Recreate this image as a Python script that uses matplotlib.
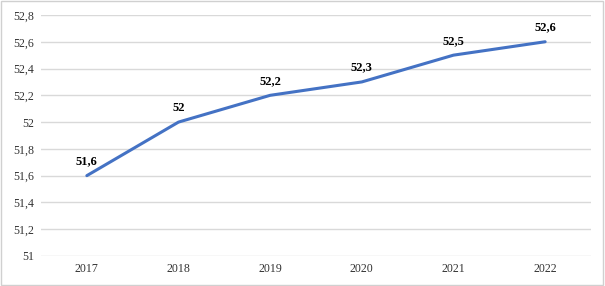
import matplotlib
matplotlib.use('Agg')
import matplotlib.pyplot as plt
from matplotlib.patches import Rectangle

years = ['2017', '2018', '2019', '2020', '2021', '2022']
values = [51.6, 52.0, 52.2, 52.3, 52.5, 52.6]
labels = ['51,6', '52', '52,2', '52,3', '52,5', '52,6']

plt.rcParams['font.family'] = ['Liberation Serif', 'DejaVu Serif']

fig = plt.figure(figsize=(6.05, 2.86), dpi=100)
ax = fig.add_axes([0.0678, 0.105, 0.909, 0.8426])

x = list(range(len(years)))
ax.plot(x, values, color='#4472C4', linewidth=2.2, solid_capstyle='round', zorder=3)
for xi, v, lab in zip(x, values, labels):
    ax.annotate(lab, (xi, v), xytext=(0, 6), textcoords='offset points',
                ha='center', va='bottom', fontsize=9, fontweight='bold')

ax.set_xlim(-0.5, len(years) - 0.5)
ax.set_ylim(51, 52.8)
yt = [51 + 0.2 * i for i in range(10)]
ax.set_yticks(yt)
ax.set_yticklabels([('%.1f' % t).replace('.', ',').replace(',0', '') for t in yt])
ax.set_xticks(x)
ax.set_xticklabels(years)
ax.tick_params(length=0, labelsize=8.6, colors='#333333', pad=5)
ax.grid(axis='y', color='#d9d9d9', linewidth=1)
ax.set_axisbelow(True)
for s in ax.spines.values():
    s.set_visible(False)

fig.patches.append(Rectangle((0.002, 0.003), 0.995, 0.993, transform=fig.transFigure,
                             fill=False, edgecolor='#d0d0d0', linewidth=1))

fig.savefig('out.png', dpi=100)
